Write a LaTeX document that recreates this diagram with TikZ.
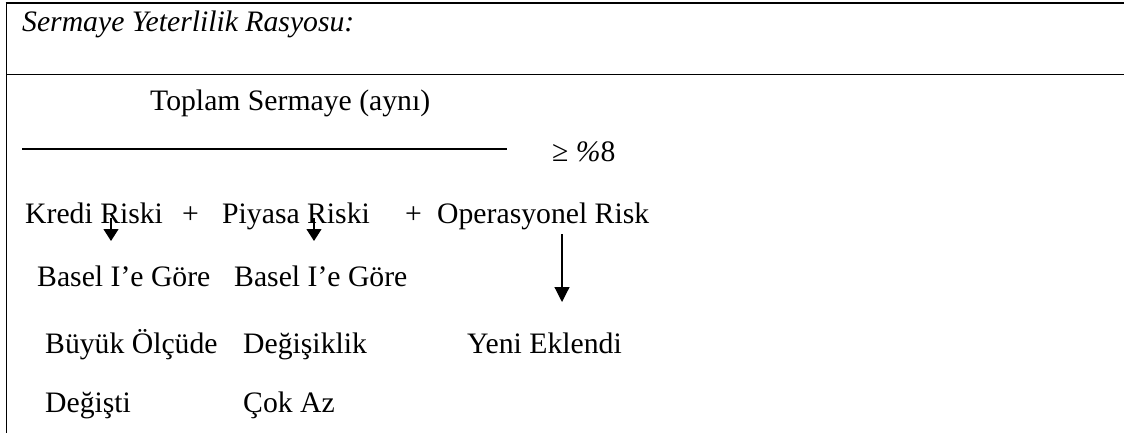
\documentclass[tikz,border=0pt]{standalone}
\usepackage{fontspec}
\setmainfont{Liberation Serif}
\usetikzlibrary{arrows.meta}
\tikzset{
  txt/.style={font=\fontsize{29.7}{34}\selectfont, inner sep=0pt, anchor=base west},
  downarrow/.style={line width=1.2pt, -{Triangle[length=12pt,width=15pt]}},
  longarrow/.style={line width=1.2pt, -{Triangle[length=15pt,width=15pt]}}
}
\begin{document}
\begin{tikzpicture}[x=1pt,y=1pt]
\useasboundingbox (0,0) rectangle (1124,-433);
% frame
\draw[line width=2pt] (5.5,-3.5) -- (1124,-3.5);
\draw[line width=1.5pt] (6.5,-2.5) -- (6.5,-433);
\draw[line width=1pt] (6,-75) -- (1124,-75);
% title
\node[txt] (title) at (22,-32) {\itshape Sermaye Yeterlilik Rasyosu:};
% fraction
\node[txt] (num) at (150,-111) {Toplam Sermaye (aynı)};
\draw[line width=1.5pt] (22,-149) -- (507,-149);
\node[txt] (ratio) at (552,-161) {≥ \textit{\%}8};
% risks row
\node[txt] (kredi) at (25,-223) {Kredi Riski};
\node[txt] (plus1) at (182,-223) {+};
\node[txt] (piyasa) at (222,-223) {Piyasa Riski};
\node[txt] (plus2) at (405,-223) {+};
\node[txt] (oper) at (437,-223) {Operasyonel Risk};
% descriptions
\node[txt] (b1) at (37,-286) {Basel I’e Göre};
\node[txt] (b2) at (234,-286) {Basel I’e Göre};
\node[txt] (buyuk) at (45,-353) {Büyük Ölçüde};
\node[txt] (degisiklik) at (243,-353) {Değişiklik};
\node[txt] (yeni) at (467,-353) {Yeni Eklendi};
\node[txt] (degisti) at (45,-412) {Değişti};
\node[txt] (cokaz) at (243,-412) {Çok Az};
% arrows
\coordinate (k1) at (111,-218);
\coordinate (k2) at (111,-241);
\coordinate (p1) at (314,-218);
\coordinate (p2) at (314,-241);
\coordinate (o1) at (562,-234);
\coordinate (o2) at (562,-302);
\draw[downarrow] (k1) -- (k2);
\draw[downarrow] (p1) -- (p2);
\draw[longarrow] (o1) -- (o2);
\end{tikzpicture}
\end{document}
